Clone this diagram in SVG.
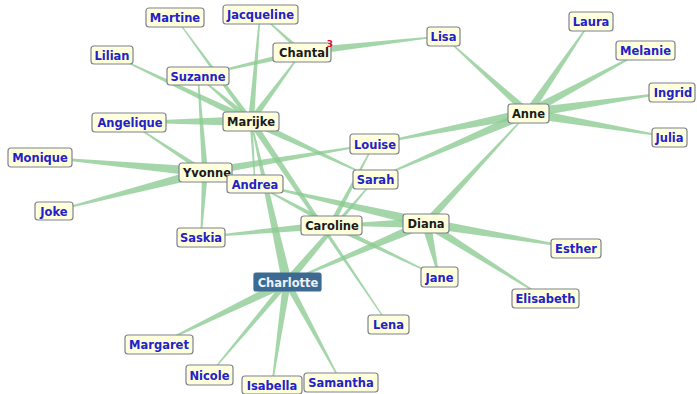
<svg xmlns="http://www.w3.org/2000/svg" width="697" height="394" viewBox="0 0 697 394">
<style>
.e{fill:#8ccb92;fill-opacity:0.78;stroke:none}
.n rect{fill:#ffffdc;stroke:#7d8290;stroke-width:1.2}
.n text{font-family:"DejaVu Sans",sans-serif;font-weight:bold;font-size:11.5px;text-anchor:middle;fill:#2222c8}
.h text{fill:#1a1a1a}
#Charlotte rect{fill:#3c6a93;stroke:#3c6a93}
#Charlotte text{fill:#eef2f6}
</style>
<rect width="697" height="394" fill="#ffffff"/>
<g id="edges">
<polygon class="e" points="528,108 443,35.4 443,36.6 528,118"/>
<polygon class="e" points="523,113 590.4,21 591.6,21 533,113"/>
<polygon class="e" points="528,108 645,49.4 645,50.6 528,118"/>
<polygon class="e" points="528,108 672,91.4 672,92.6 528,118"/>
<polygon class="e" points="528,108 669,136.4 669,137.6 528,118"/>
<polygon class="e" points="528,108 374,143.4 374,144.6 528,118"/>
<polygon class="e" points="528,108 375,178.4 375,179.6 528,118"/>
<polygon class="e" points="421,223 527.4,113 528.6,113 431,223"/>
<polygon class="e" points="426,218 576,247.4 576,248.6 426,228"/>
<polygon class="e" points="426,218 545,297.4 545,298.6 426,228"/>
<polygon class="e" points="421,223 438.4,277 439.6,277 431,223"/>
<polygon class="e" points="426,218 331,224.4 331,225.6 426,228"/>
<polygon class="e" points="426,218 287,281.4 287,282.6 426,228"/>
<polygon class="e" points="426,218 255,183.4 255,184.6 426,228"/>
<polygon class="e" points="302,48 443,35.4 443,36.6 302,56"/>
<polygon class="e" points="302,49 198,75.4 198,76.6 302,55"/>
<polygon class="e" points="299,52 259.4,14 260.6,14 305,52"/>
<polygon class="e" points="247,121 301.4,52 302.6,52 255,121"/>
<polygon class="e" points="248,121 259.4,14 260.6,14 254,121"/>
<polygon class="e" points="248,121 174.4,17 175.6,17 254,121"/>
<polygon class="e" points="251,117 112,54.4 112,55.6 251,125"/>
<polygon class="e" points="251,117 198,75.4 198,76.6 251,125"/>
<polygon class="e" points="251,116 129,121.4 129,122.6 251,126"/>
<polygon class="e" points="249.5,121 254.4,184 255.6,184 252.5,121"/>
<polygon class="e" points="251,117 375,178.4 375,179.6 251,125"/>
<polygon class="e" points="247,121 387.4,324 388.6,324 255,121"/>
<polygon class="e" points="282,282 250.4,121 251.6,121 292,282"/>
<polygon class="e" points="282,282 374.4,179 375.6,179 292,282"/>
<polygon class="e" points="287,277 159,343.4 159,344.6 287,287"/>
<polygon class="e" points="283,282 208.4,375 209.6,375 291,282"/>
<polygon class="e" points="283,282 271.4,385 272.6,385 291,282"/>
<polygon class="e" points="283,282 340.4,382 341.6,382 291,282"/>
<polygon class="e" points="205,167 40,156.4 40,157.6 205,177"/>
<polygon class="e" points="205,167 54,210.4 54,211.6 205,177"/>
<polygon class="e" points="205,169 129,121.4 129,122.6 205,175"/>
<polygon class="e" points="202,172 197.4,76 198.6,76 208,172"/>
<polygon class="e" points="202,172 200.4,237 201.6,237 208,172"/>
<polygon class="e" points="205,168 374,143.4 374,144.6 205,176"/>
<polygon class="e" points="331,221 201,236.4 201,237.6 331,229"/>
<polygon class="e" points="328,225 373.4,144 374.6,144 334,225"/>
<polygon class="e" points="331,222 439,276.4 439,277.6 331,228"/>
<polygon class="e" points="331,222 255,183.4 255,184.6 331,228"/>
</g>
<g id="Martine" class="n"><rect x="146" y="8" width="58" height="19" rx="3"/><text x="175" y="22">Martine</text></g>
<g id="Jacqueline" class="n"><rect x="223" y="5" width="75" height="19" rx="3"/><text x="260.5" y="19">Jacqueline</text></g>
<g id="Chantal" class="n h"><rect x="273" y="43" width="58" height="19" rx="3"/><text x="304" y="57">Chantal</text><text x="330" y="47" style="fill:#e0102a;font-size:9px">3</text></g>
<g id="Lisa" class="n"><rect x="427" y="27" width="33" height="19" rx="3"/><text x="443.5" y="41">Lisa</text></g>
<g id="Laura" class="n"><rect x="569" y="12" width="44" height="19" rx="3"/><text x="591" y="26">Laura</text></g>
<g id="Melanie" class="n"><rect x="616" y="41" width="59" height="19" rx="3"/><text x="645.5" y="55">Melanie</text></g>
<g id="Ingrid" class="n"><rect x="649" y="83" width="46" height="19" rx="3"/><text x="673" y="97">Ingrid</text></g>
<g id="Julia" class="n"><rect x="652" y="128" width="35" height="19" rx="3"/><text x="669.5" y="142">Julia</text></g>
<g id="Anne" class="n h"><rect x="508" y="104" width="41" height="19" rx="3"/><text x="528.5" y="118">Anne</text></g>
<g id="Lilian" class="n"><rect x="91" y="46" width="42" height="18" rx="3"/><text x="112" y="59.5">Lilian</text></g>
<g id="Suzanne" class="n"><rect x="167" y="67" width="62" height="18" rx="3"/><text x="198" y="80.5">Suzanne</text></g>
<g id="Angelique" class="n"><rect x="92" y="113" width="74" height="19" rx="3"/><text x="130" y="127">Angelique</text></g>
<g id="Marijke" class="n h"><rect x="223" y="112" width="56" height="19" rx="3"/><text x="251" y="126">Marijke</text></g>
<g id="Monique" class="n"><rect x="8" y="148" width="64" height="19" rx="3"/><text x="40" y="162">Monique</text></g>
<g id="Louise" class="n"><rect x="350" y="134" width="49" height="20" rx="3"/><text x="375" y="148.5">Louise</text></g>
<g id="Yvonne" class="n h"><rect x="179" y="163" width="53" height="19" rx="3"/><text x="207" y="177">Yvonne</text></g>
<g id="Andrea" class="n"><rect x="227" y="175" width="56" height="18" rx="3"/><text x="255" y="188.5">Andrea</text></g>
<g id="Sarah" class="n"><rect x="353" y="170" width="45" height="19" rx="3"/><text x="375.5" y="184">Sarah</text></g>
<g id="Joke" class="n"><rect x="35" y="202" width="38" height="18" rx="3"/><text x="54" y="215.5">Joke</text></g>
<g id="Saskia" class="n"><rect x="177" y="228" width="48" height="19" rx="3"/><text x="201" y="242">Saskia</text></g>
<g id="Caroline" class="n h"><rect x="301" y="216" width="61" height="19" rx="3"/><text x="332" y="230">Caroline</text></g>
<g id="Diana" class="n h"><rect x="403" y="214" width="46" height="19" rx="3"/><text x="426" y="228">Diana</text></g>
<g id="Esther" class="n"><rect x="551" y="239" width="50" height="19" rx="3"/><text x="576" y="253">Esther</text></g>
<g id="Jane" class="n"><rect x="421" y="267" width="37" height="20" rx="3"/><text x="439.5" y="281.5">Jane</text></g>
<g id="Charlotte" class="n"><rect x="254" y="273" width="67" height="18" rx="2"/><text x="288" y="286.5">Charlotte</text></g>
<g id="Elisabeth" class="n"><rect x="512" y="289" width="67" height="19" rx="3"/><text x="545.5" y="303">Elisabeth</text></g>
<g id="Lena" class="n"><rect x="368" y="315" width="41" height="19" rx="3"/><text x="388.5" y="329">Lena</text></g>
<g id="Margaret" class="n"><rect x="125" y="335" width="68" height="19" rx="3"/><text x="159" y="349">Margaret</text></g>
<g id="Nicole" class="n"><rect x="186" y="365" width="47" height="20" rx="3"/><text x="209.5" y="379.5">Nicole</text></g>
<g id="Isabella" class="n"><rect x="242" y="376" width="60" height="18" rx="3"/><text x="272" y="389.5">Isabella</text></g>
<g id="Samantha" class="n"><rect x="304" y="373" width="74" height="19" rx="3"/><text x="341" y="387">Samantha</text></g>
</svg>
